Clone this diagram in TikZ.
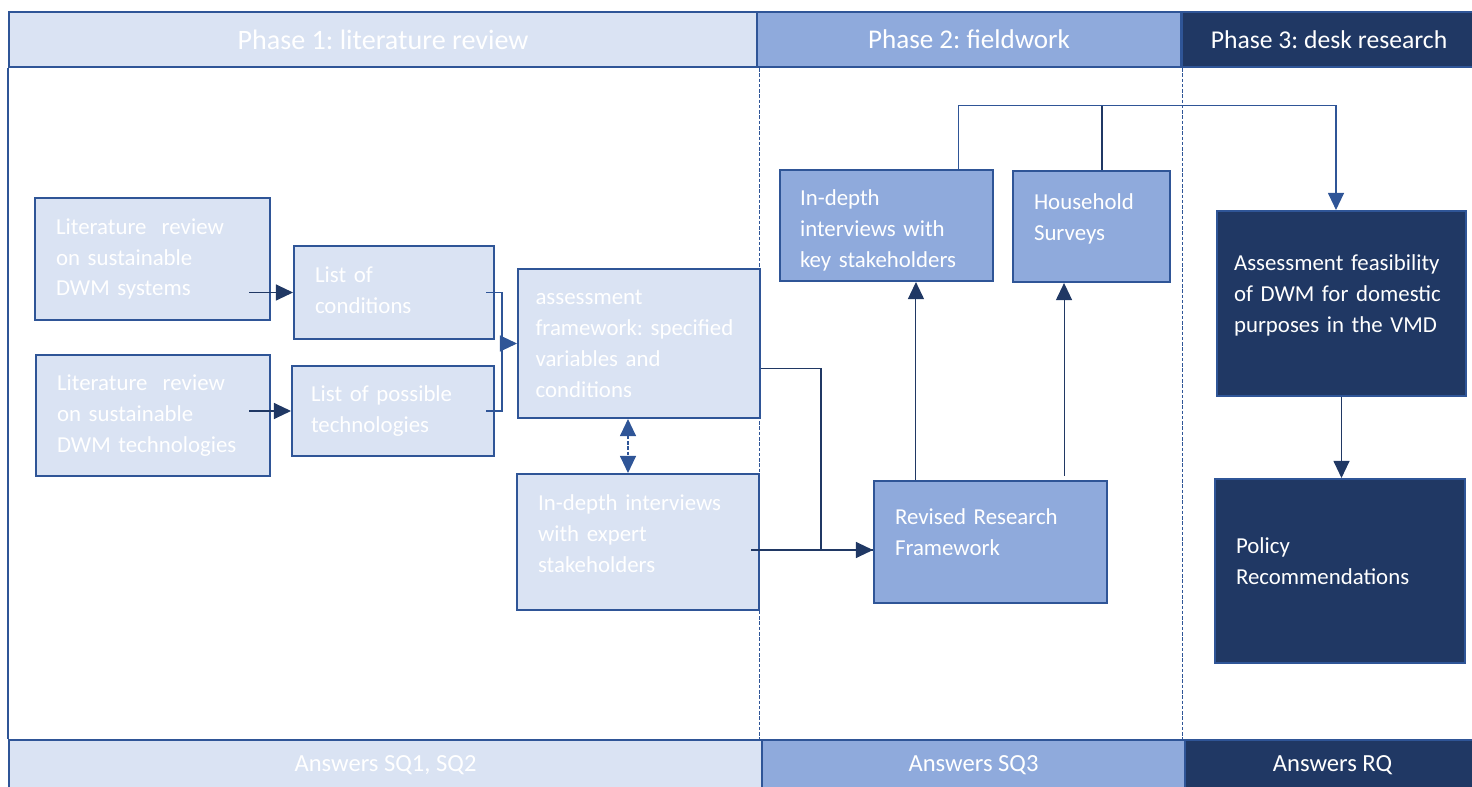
\documentclass[tikz,border=0pt]{standalone}
\usepackage{fontspec}
\setmainfont{Carlito}
\usetikzlibrary{arrows.meta,positioning}
\frenchspacing

\definecolor{phaseone}{HTML}{DAE3F3}
\definecolor{phasetwo}{HTML}{8FAADC}
\definecolor{phasethree}{HTML}{203864}
\definecolor{edgeblue}{HTML}{2F5597}

\tikzset{
  box/.style={draw=edgeblue, line width=1.2pt, text=white, align=left,
    inner xsep=0.42cm, font=\fontsize{13}{17.6}\selectfont},
  lightbox/.style={box, fill=phaseone},
  midbox/.style={box, fill=phasetwo},
  darkbox/.style={box, fill=phasethree},
  lift/.style={execute at end node={\par\vspace*{#1}}},
  phasebar/.style={draw=edgeblue, line width=1.2pt, text=white, minimum height=1.1cm},
  answerbar/.style={draw=edgeblue, line width=1.2pt, text=white, minimum height=1.0cm,
    font=\fontsize{14}{16}\selectfont},
  link/.style={draw=phasethree, line width=0.6pt},
  arr/.style={link, -{Triangle[length=0.34cm,width=0.32cm]}},
  sep/.style={draw=edgeblue, line width=0.5pt, dash pattern=on 2pt off 1pt},
}

\begin{document}
\begin{tikzpicture}[x=0.02cm,y=-0.02cm]
\useasboundingbox (0,0) rectangle (1472,787);

% Phase headers
\node[phasebar, fill=phaseone, minimum width=14.96cm, font=\fontsize{16}{18}\selectfont] (p1) at (383,39.5) {Phase 1: literature review};
\node[phasebar, fill=phasetwo, minimum width=8.48cm, font=\fontsize{15.4}{18}\selectfont] (p2) at (969,39.5) {Phase 2: fieldwork};
\node[phasebar, fill=phasethree, minimum width=5.9cm, font=\fontsize{14.6}{18}\selectfont] (p3) at (1329,39.5) {Phase 3: desk research};

% Answer bars
\node[answerbar, fill=phaseone, minimum width=15.06cm] (s1) at (385.5,765) {Answers SQ1, SQ2};
\node[answerbar, fill=phasetwo, minimum width=8.46cm] (s2) at (973.5,765) {Answers SQ3};
\node[answerbar, fill=phasethree, minimum width=5.9cm] (s3) at (1332.5,765) {Answers RQ};

% Frame and phase separators
\draw[edgeblue, line width=1.2pt] (p1.south west) -- (p1.south west |- s1.north);
\draw[sep] ([xshift=0.06cm]p2.south west) -- ([xshift=0.06cm]p2.south west |- s2.north);
\draw[sep] ([xshift=0.04cm]p3.south west) -- ([xshift=0.04cm]p3.south west |- s3.north);

% Phase 1 boxes
\node[lightbox, minimum width=4.70cm, minimum height=2.44cm, text width=3.86cm] (litsys) at (152.5,259) {Literature\ \ review\\on sustainable\\DWM systems};
\node[lightbox, minimum width=4.68cm, minimum height=2.42cm, text width=3.84cm] (littech) at (153,415.5) {Literature\ \ review\\on sustainable\\DWM technologies};
\node[lightbox, minimum width=4.00cm, minimum height=1.86cm, text width=3.16cm, lift=0.08cm] (conds) at (394,292.5) {List of\\conditions};
\node[lightbox, minimum width=4.04cm, minimum height=1.80cm, text width=3.28cm, inner xsep=0.38cm] (techs) at (393,411) {List of possible\\technologies};
\node[lightbox, minimum width=4.84cm, minimum height=2.98cm, text width=4.14cm, inner xsep=0.35cm] (frame) at (639,343.5) {assessment\\framework: specified\\variables and\\conditions};
\node[lightbox, minimum width=4.84cm, minimum height=2.72cm, text width=4.00cm, lift=0.32cm] (expert) at (638,542) {In-depth interviews\\with expert\\stakeholders};

% Phase 2 boxes
\node[midbox, minimum width=4.26cm, minimum height=2.22cm, text width=3.46cm, inner xsep=0.4cm, lift=-0.2cm] (keyint) at (886.5,225.5) {In-depth\\interviews with\\key stakeholders};
\node[midbox, minimum width=3.14cm, minimum height=2.22cm, text width=2.30cm, lift=0.32cm] (survey) at (1091.5,226.5) {Household\\Surveys};
\node[midbox, minimum width=4.66cm, minimum height=2.44cm, text width=3.82cm, lift=0.4cm] (revised) at (990.5,542) {Revised Research\\Framework};

% Phase 3 boxes
\node[darkbox, minimum width=4.98cm, minimum height=3.70cm, text width=4.30cm, inner xsep=0.34cm, lift=0.32cm] (feas) at (1341.5,303.5) {Assessment feasibility\\of DWM for domestic\\purposes in the VMD};
\node[darkbox, minimum width=5.00cm, minimum height=3.68cm, text width=4.16cm, lift=0.4cm] (policy) at (1340,571) {Policy\\Recommendations};

% Literature to lists
\draw[arr] ([xshift=-0.44cm]litsys.east |- conds.west) -- (conds.west);
\draw[arr] ([xshift=-0.44cm]littech.east |- techs.west) -- (techs.west);

% Lists into framework
\coordinate (join) at ([xshift=-0.3cm]frame.west);
\draw[link, edgeblue] ([xshift=-0.18cm]conds.east) -| (join) |- ([xshift=-0.18cm]techs.east);
\draw[arr, edgeblue] (join) -- (frame.west);
\draw[sep, {Triangle[length=0.34cm,width=0.32cm]}-{Triangle[length=0.34cm,width=0.32cm]}, line width=0.6pt]
  ([xshift=-0.22cm]frame.south) -- ([xshift=-0.2cm]expert.north);

% Into revised framework
\coordinate (gin) at ([yshift=-0.16cm]revised.west);
\draw[link] ([yshift=-0.5cm]frame.east) -| ([xshift=-1.04cm]gin) -- (gin);
\draw[arr] ([xshift=-0.18cm]expert.east |- gin) -- (gin);

% Fieldwork
\draw[arr] ([xshift=0.86cm]revised.north west) -- ([xshift=0.86cm]revised.north west |- keyint.south);
\draw[arr] ([xshift=-0.88cm,yshift=0.08cm]revised.north east) -- ([xshift=-0.88cm]revised.north east |- survey.south);

% Towards assessment
\coordinate (bus) at ([xshift=-0.72cm,yshift=1.26cm]keyint.north east);
\draw[link] ([xshift=0.21cm]survey.north) -- ([xshift=0.21cm]survey.north |- bus);
\draw[arr, edgeblue] ([xshift=-0.72cm]keyint.north east) -- (bus) -| ([xshift=-0.11cm]feas.north);
\draw[arr] (feas.south) -- (feas.south |- policy.north);
\end{tikzpicture}
\end{document}
